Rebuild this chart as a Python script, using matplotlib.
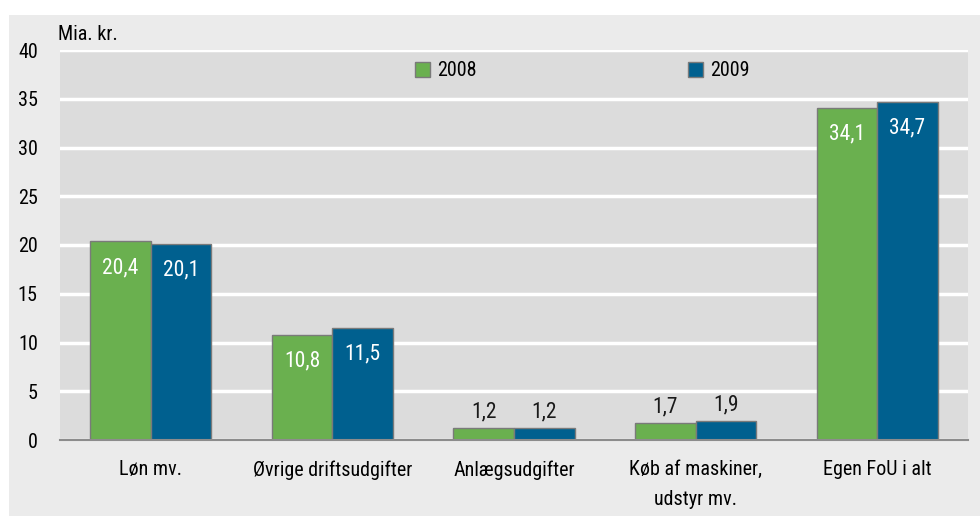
import matplotlib
matplotlib.use("Agg")
import matplotlib.pyplot as plt
from matplotlib.patches import Rectangle, Patch
import numpy as np

categories = ["Løn mv.", "Øvrige driftsudgifter", "Anlægsudgifter",
              "Køb af maskiner,\nudstyr mv.", "Egen FoU i alt"]
values_2008 = [20.4, 10.8, 1.2, 1.7, 34.1]
values_2009 = [20.1, 11.5, 1.2, 1.9, 34.7]
series_labels = ["2008", "2009"]
yticks = [0, 5, 10, 15, 20, 25, 30, 35, 40]

plt.rcParams['font.family'] = ['Roboto Condensed', 'PT Sans Narrow', 'DejaVu Sans']
plt.rcParams['font.weight'] = 'normal'

W, H = 980, 516
fig = plt.figure(figsize=(W/100, H/100), dpi=100)
fig.patch.set_facecolor('white')
fig.add_artist(Rectangle((9/W, 0), 1 - 9/W, 1 - 15/H, transform=fig.transFigure,
                         facecolor='#ebebeb', edgecolor='none', zorder=-10))

left, right, top, bottom = 60, 968, 50, 440
ax = fig.add_axes([left/W, 1 - bottom/H, (right-left)/W, (bottom-top)/H])
ax.set_facecolor('#dcdcdc')

green = '#6ab04f'
blue = '#00608f'
x = np.arange(len(categories))
w = 1/3
b1 = ax.bar(x - w/2, values_2008, w, color=green, edgecolor='#7a7a7a', linewidth=1, zorder=3)
b2 = ax.bar(x + w/2, values_2009, w, color=blue, edgecolor='#7a7a7a', linewidth=1, zorder=3)

ax.set_xlim(-0.5, len(categories) - 0.5)
ax.set_ylim(0, 40)
ax.set_yticks(yticks)
ax.set_yticklabels([str(t) for t in yticks], fontsize=14.5)
ax.yaxis.grid(True, color='white', linewidth=2.5, zorder=0)
ax.set_axisbelow(True)
ax.tick_params(axis='y', length=0, pad=16)
ax.set_xticks(x)
ax.set_xticklabels(categories, fontsize=14.5, linespacing=1.75, va='top')
ax.tick_params(axis='x', length=0, pad=14.5)
for s in ['top', 'right', 'left']:
    ax.spines[s].set_visible(False)
ax.spines['bottom'].set_color('#8c8c8c')
ax.spines['bottom'].set_linewidth(1.5)
ax.spines['bottom'].set_zorder(4)

def fmt(v):
    return f"{v:.1f}".replace('.', ',')

for bars, vals in ((b1, values_2008), (b2, values_2009)):
    for rect, v in zip(bars, vals):
        cx = rect.get_x() + rect.get_width()/2
        if v > 5:
            ax.annotate(fmt(v), (cx, v), xytext=(0, -19), textcoords='offset points',
                        ha='center', va='center', color='white', fontsize=15.5, zorder=5)
        else:
            ax.annotate(fmt(v), (cx, v), xytext=(0, 12), textcoords='offset points',
                        ha='center', va='center', color='#1a1a1a', fontsize=15.5, zorder=5)

fig.text(58/W, 1 - 35/H, "Mia. kr.", fontsize=14.5, ha='left', va='center')

handles = [Patch(facecolor=green, edgecolor='#7a7a7a'), Patch(facecolor=blue, edgecolor='#7a7a7a')]
leg = ax.legend(handles, series_labels, loc='center', bbox_to_anchor=(582/W, 1 - 71/H),
                bbox_transform=fig.transFigure, ncol=2, frameon=False, fontsize=14.5,
                handlelength=0.75, handleheight=0.75, handletextpad=0.35, columnspacing=10.5)

fig.savefig("out.png", dpi=100, facecolor=fig.get_facecolor())
